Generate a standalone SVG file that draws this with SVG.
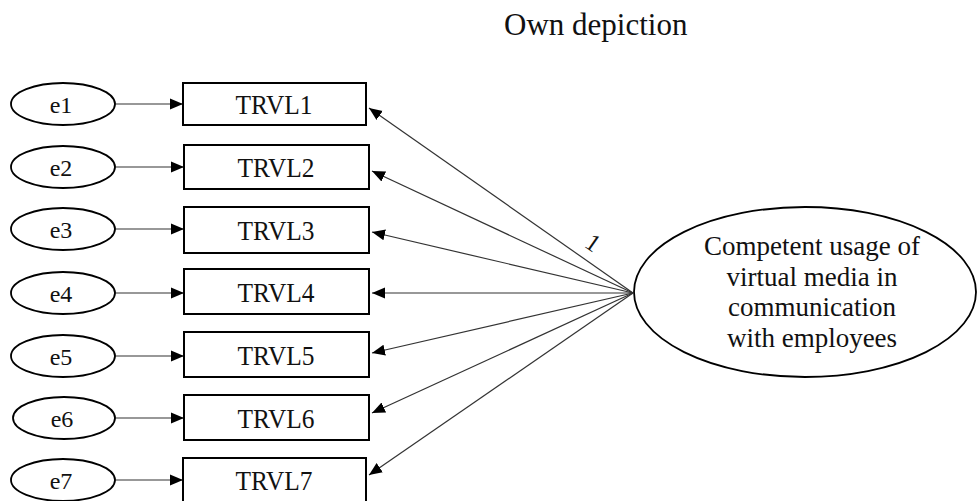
<svg xmlns="http://www.w3.org/2000/svg" width="978" height="501" viewBox="0 0 978 501" font-family="'Liberation Serif', 'Times New Roman', 'DejaVu Serif', serif">
<style>
text{font-family:'Liberation Serif','Times New Roman','DejaVu Serif',serif;fill:#111}
.e{fill:#fff;stroke:#000;stroke-width:1.8}
.b{fill:#fff;stroke:#000;stroke-width:2}
.c{stroke:#333;stroke-width:1.2;fill:none;marker-end:url(#ah)}
.et{font-size:24px;text-anchor:middle}
.bt{font-size:27px;text-anchor:middle}
.lt{font-size:27px;text-anchor:middle}
</style>
<defs>
<marker id="ah" markerUnits="userSpaceOnUse" markerWidth="14" markerHeight="12" viewBox="0 0 14 12" refX="13" refY="6" orient="auto">
<path d="M0,0.5 L13,6 L0,11.5 Z" fill="#000"/>
</marker>
</defs>
<rect width="978" height="501" fill="#fff"/>
<text x="504" y="35" font-family="'Liberation Serif', serif" font-size="31">Own depiction</text>
<g id="connectors">
<line class="c" x1="114" y1="104" x2="183" y2="104"/>
<line class="c" x1="114" y1="167" x2="184" y2="167"/>
<line class="c" x1="114" y1="229" x2="184" y2="229"/>
<line class="c" x1="114" y1="293" x2="184" y2="293"/>
<line class="c" x1="114" y1="356" x2="184" y2="356"/>
<line class="c" x1="115" y1="418" x2="184" y2="418"/>
<line class="c" x1="114" y1="480" x2="183" y2="480"/>
<line class="c" x1="633" y1="293" x2="369" y2="108"/>
<line class="c" x1="633" y1="293" x2="372" y2="171"/>
<line class="c" x1="633" y1="293" x2="372" y2="232"/>
<line class="c" x1="633" y1="293" x2="372" y2="293"/>
<line class="c" x1="633" y1="293" x2="372" y2="353"/>
<line class="c" x1="633" y1="293" x2="372" y2="413"/>
<line class="c" x1="633" y1="293" x2="369" y2="475"/>
<text x="593" y="251" font-size="25" text-anchor="middle" transform="rotate(35 593 243)">1</text>
</g>
<g id="e1"><ellipse class="e" cx="63" cy="104" rx="52" ry="21"/><text class="et" x="61" y="113">e1</text></g>
<g id="e2"><ellipse class="e" cx="63" cy="167" rx="52" ry="21"/><text class="et" x="61" y="176">e2</text></g>
<g id="e3"><ellipse class="e" cx="63" cy="229" rx="52" ry="21"/><text class="et" x="61" y="238">e3</text></g>
<g id="e4"><ellipse class="e" cx="63" cy="293" rx="52" ry="21"/><text class="et" x="61" y="302">e4</text></g>
<g id="e5"><ellipse class="e" cx="63" cy="356" rx="52" ry="21"/><text class="et" x="61" y="365">e5</text></g>
<g id="e6"><ellipse class="e" cx="64" cy="418" rx="51" ry="21"/><text class="et" x="62" y="427">e6</text></g>
<g id="e7"><ellipse class="e" cx="63" cy="480" rx="52" ry="21"/><text class="et" x="61" y="489">e7</text></g>
<g id="TRVL1"><rect class="b" x="183" y="83" width="183" height="42"/><text class="bt" x="274" y="114" textLength="77" lengthAdjust="spacingAndGlyphs">TRVL1</text></g>
<g id="TRVL2"><rect class="b" x="184" y="145" width="185" height="44"/><text class="bt" x="276" y="177" textLength="77" lengthAdjust="spacingAndGlyphs">TRVL2</text></g>
<g id="TRVL3"><rect class="b" x="184" y="207" width="185" height="46"/><text class="bt" x="276" y="240" textLength="77" lengthAdjust="spacingAndGlyphs">TRVL3</text></g>
<g id="TRVL4"><rect class="b" x="184" y="269" width="185" height="45"/><text class="bt" x="276" y="302" textLength="77" lengthAdjust="spacingAndGlyphs">TRVL4</text></g>
<g id="TRVL5"><rect class="b" x="184" y="332" width="185" height="45"/><text class="bt" x="276" y="365" textLength="77" lengthAdjust="spacingAndGlyphs">TRVL5</text></g>
<g id="TRVL6"><rect class="b" x="184" y="395" width="185" height="45"/><text class="bt" x="276" y="428" textLength="77" lengthAdjust="spacingAndGlyphs">TRVL6</text></g>
<g id="TRVL7"><rect class="b" x="183" y="458" width="183" height="44"/><text class="bt" x="274" y="490" textLength="77" lengthAdjust="spacingAndGlyphs">TRVL7</text></g>
<g id="latent"><ellipse class="e" cx="805" cy="292" rx="171" ry="85"/>
<text class="lt" x="812" y="255">Competent usage of</text>
<text class="lt" x="812" y="285.5">virtual media in</text>
<text class="lt" x="812" y="316">communication</text>
<text class="lt" x="812" y="346.5">with employees</text>
</g>
</svg>
